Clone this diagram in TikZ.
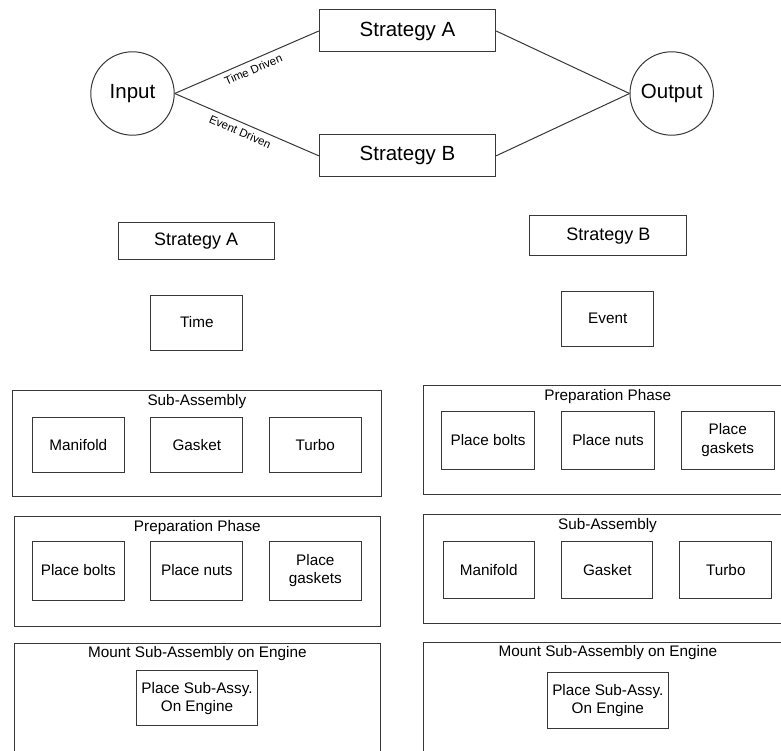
\documentclass[tikz,border=0pt]{standalone}
\usepackage{fontspec}
\setmainfont{Liberation Sans}
\begin{document}
\begin{tikzpicture}[x=1pt,y=-1pt,
  every node/.style={text=black, inner sep=0pt},
  lineclr/.style={draw=black!78, line width=1pt},
  bigtxt/.style={font=\fontsize{20.5}{24}\selectfont},
  midtxt/.style={font=\fontsize{18}{21}\selectfont},
  txt/.style={font=\fontsize{15.3}{18.5}\selectfont},
  small/.style={font=\fontsize{11.5}{13}\selectfont},
  box/.style={lineclr, rectangle, txt, align=center},
  outer/.style={lineclr, rectangle, anchor=north west},
  circ/.style={lineclr, circle, bigtxt, minimum size=83.4pt}
]
\clip (0,0) rectangle (781,751);
\fill[white] (0,0) rectangle (781,751);

% ---------- top graph ----------
\node[circ] (in) at (132.5,93.5) {Input};
\node[circ] (out) at (671.7,93.5) {Output};
\node[box, bigtxt, minimum width=176.4pt, minimum height=42pt] (sa) at (407.5,31) {Strategy A};
\node[box, bigtxt, minimum width=176.4pt, minimum height=41.7pt] (sb) at (407.5,155.8) {Strategy B};
\draw[lineclr] (in.east) -- node[pos=0.52, sloped, below, small, inner sep=4.5pt] (tdl) {Time Driven} (sa.west);
\draw[lineclr] (in.east) -- node[pos=0.48, sloped, below, small, inner sep=4.5pt] (edl) {Event Driven} (sb.west);
\draw[lineclr] (sa.east) -- (out.west);
\draw[lineclr] (sb.east) -- (out.west);

% ---------- middle ----------
\node[box, midtxt, minimum width=155.7pt, minimum height=36.7pt] (sa2) at (196.2,240.7) {Strategy A};
\node[box, minimum width=91.7pt, minimum height=55pt] (time) at (196.8,322.5) {Time};
\node[box, midtxt, minimum width=156.7pt, minimum height=40.3pt] (sb2) at (608.3,235.8) {Strategy B};
\node[box, minimum width=92.3pt, minimum height=55pt] (event) at (607.8,318.5) {Event};

% ---------- left column ----------
\node[outer, minimum width=369.3pt, minimum height=106pt] (lsub) at (11.7,390) {};
\node[txt] (lsubl) at ([yshift=-12pt]lsub.north) {Sub-Assembly};
\node[box, minimum width=92pt, minimum height=55pt] (lman) at (78.3,444.8) {Manifold};
\node[box, minimum width=91.7pt, minimum height=55pt] (lgas) at (196.8,444.8) {Gasket};
\node[box, minimum width=92pt, minimum height=55pt] (ltur) at (315.3,444.8) {Turbo};

\node[outer, minimum width=365.7pt, minimum height=110pt] (lprep) at (14,516) {};
\node[txt] (lprepl) at ([yshift=-11.5pt]lprep.north) {Preparation Phase};
\node[box, minimum width=92pt, minimum height=59pt] (lbolt) at (78.3,570.5) {Place bolts};
\node[box, minimum width=91.7pt, minimum height=59pt] (lnut) at (196.8,570.5) {Place nuts};
\node[box, minimum width=92pt, minimum height=59pt] (lgk) at (315.3,570.5) {Place\\gaskets};

\node[outer, minimum width=365.7pt, minimum height=130pt] (lmnt) at (14,642.7) {};
\node[txt] (lmntl) at ([yshift=-11pt]lmnt.north) {Mount Sub-Assembly on Engine};
\node[box, minimum width=120.6pt, minimum height=54.7pt] (lpsa) at (197,698.3) {Place Sub-Assy.\\On Engine};

% ---------- right column ----------
\node[outer, minimum width=368.7pt, minimum height=109.3pt] (rprep) at (423.3,385) {};
\node[txt] (rprepl) at (607.7,396.5) {Preparation Phase};
\node[box, minimum width=92.6pt, minimum height=58.3pt] (rbolt) at (488,440.2) {Place bolts};
\node[box, minimum width=92.6pt, minimum height=58.3pt] (rnut) at (608,440.2) {Place nuts};
\node[box, minimum width=93.3pt, minimum height=58.3pt] (rgk) at (727.7,440.2) {Place\\gaskets};

\node[outer, minimum width=368.7pt, minimum height=109.3pt] (rsub) at (423.3,514) {};
\node[txt] (rsubl) at (607.5,525.5) {Sub-Assembly};
\node[box, minimum width=91.3pt, minimum height=57pt] (rman) at (488.7,570.2) {Manifold};
\node[box, minimum width=91.3pt, minimum height=57pt] (rgas) at (607.3,570.2) {Gasket};
\node[box, minimum width=91.7pt, minimum height=57pt] (rtur) at (725.8,570.2) {Turbo};

\node[outer, minimum width=368.7pt, minimum height=130pt] (rmnt) at (423.3,641.7) {};
\node[txt] (rmntl) at (607.8,653) {Mount Sub-Assembly on Engine};
\node[box, minimum width=121pt, minimum height=55.6pt] (rpsa) at (607.8,700.5) {Place Sub-Assy.\\On Engine};
\end{tikzpicture}
\end{document}
